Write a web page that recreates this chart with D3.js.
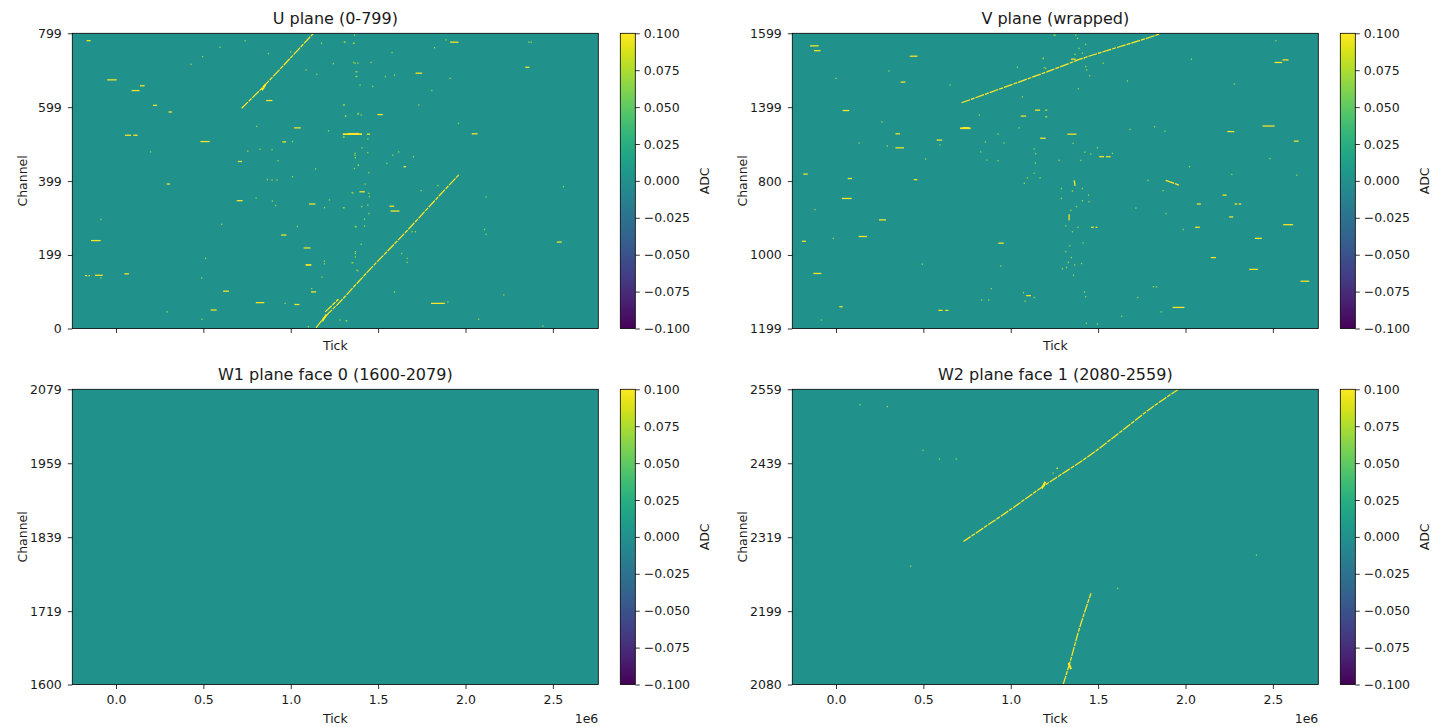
<!DOCTYPE html>
<html><head><meta charset="utf-8">
<script src="https://cdn.jsdelivr.net/npm/d3@7/dist/d3.min.js"></script>
<style>html,body{margin:0;padding:0;background:#fff}svg{display:block}text{font-family:"DejaVu Sans",sans-serif;fill:#1a1a1a}</style>
</head><body><svg id="c" width="1433" height="727"></svg>
<script>
// Ticks in units of 1e6. Hits: [tick, channel]; blips: [tickStart, tickEnd, channel]; tracks: [tick, channel] vertices.
const xTickValues=[0,0.5,1,1.5,2,2.5];
const cbarTicks=[-0.1,-0.075,-0.05,-0.025,0,0.025,0.05,0.075,0.1];

const uBlips=[[-.05,.004,673],[.09,.134,644],[.137,.164,657],[.212,.235,604],[.30,.32,586],[.052,.086,523],[.099,.124,523],[.483,.536,506],[.697,.721,452],[.859,.895,617],[1.019,1.057,543],[.952,.973,505],[.691,.725,346],[1.105,1.141,337],[.945,.975,253],[1.074,1.113,218],[-.143,-.088,238],[-.12,-.076,144],[-.177,-.165,143],[-.157,-.149,143],[.048,.074,148],[.613,.647,101],[.80,.849,70],[.542,.576,50],[1.021,1.05,65],[1.116,1.145,99],[-.168,-.145,779],[.29,.309,391],[1.912,1.96,775],[1.714,1.752,691],[2.342,2.366,707],[1.496,1.527,579],[2.036,2.069,527],[1.435,1.454,526],[1.565,1.592,331],[1.571,1.622,318],[1.803,1.882,68],[2.523,2.551,234],[1.393,1.424,370],[1.645,1.66,438]];
const uThick=[[1.325,1.39,527],[1.298,1.408,526],[1.085,1.118,172]];
const uHits=[[1.176,772],[.595,761],[.739,779],[.872,744],[.496,736],[.429,715],[1.0,749],[1.244,717],[1.088,700],[1.149,688],[1.311,775],[1.363,772],[1.368,718],[1.378,695],[1.378,682],[1.307,605],[1.315,576],[1.387,582],[.805,547],[1.216,535],[1.305,518],[1.01,506],[.754,480],[.824,485],[.893,484],[.198,478],[.927,454],[1.143,432],[.866,403],[.893,402],[.922,402],[1.01,411],[1.368,469],[1.387,442],[1.355,367],[.802,353],[.895,345],[.914,333],[1.221,348],[1.193,327],[1.305,327],[1.374,275],[-.086,295],[.605,282],[1.038,276],[1.37,203],[1.193,182],[1.193,175],[.513,190],[1.355,178],[1.384,156],[1.179,139],[.49,137],[-.086,137],[1.12,108],[.292,45],[.492,25],[.968,68],[1.267,77],[1.282,23],[1.32,21],[1.101,5],[1.365,794],[1.359,772],[1.307,775],[1.361,720],[1.384,718],[1.46,720],[1.374,695],[1.374,682],[1.397,659],[1.469,655],[1.58,747],[1.542,682],[1.594,686],[1.912,677],[1.823,760],[1.889,781],[1.807,644],[1.733,605],[1.96,555],[1.302,605],[1.313,574],[1.384,580],[1.403,578],[1.441,513],[1.302,518],[1.368,474],[1.37,462],[1.441,476],[1.408,489],[1.387,442],[1.364,433],[1.447,422],[1.55,447],[1.584,469],[1.618,478],[1.702,465],[1.426,391],[1.842,387],[1.746,373],[1.351,368],[1.447,366],[1.45,357],[2.118,356],[2.561,384],[1.302,327],[1.406,330],[1.441,334],[1.447,311],[1.422,296],[1.422,277],[1.37,276],[1.695,262],[1.714,262],[2.109,268],[2.118,255],[1.403,228],[1.37,208],[1.37,194],[1.351,178],[1.378,158],[1.635,203],[1.666,190],[1.666,179],[1.594,99],[2.219,91],[2.076,25],[2.443,7],[1.317,21],[1.899,72],[2.363,775],[2.376,775]];
const uTracks=[[[.719,596],[.834,650],[.996,731],[1.13,799]],[[1.145,2],[1.197,32],[1.282,72],[1.365,115],[1.469,168],[1.66,262],[1.851,360],[1.966,418]],[[1.197,45],[1.273,79]]];
const uWedges=[[[1.18,20],[1.205,38]],[[.835,645],[.855,660]]];

// V plane is wrapped: positions 0-799 read 1199 down to 800, then 1200 up to 1599.
const vRowTicks=[0,199,399,599,799];
const vRowLabels=["1199","1000","800","1399","1599"];
const vBlips=[[-.149,-.099,765],[-.126,-.088,752],[.422,.466,737],[.37,.397,667],[.038,.076,590],[.34,.366,527],[.34,.389,489],[.576,.607,510],[1.057,1.088,575],[1.139,1.168,591],[1.168,1.2,515],[-.187,-.162,418],[.067,.092,406],[.445,.466,403],[.034,.09,352],[.246,.286,294],[.13,.177,249],[-.195,-.172,236],[.929,.96,231],[-.13,-.084,149],[.019,.038,59],[.586,.61,49],[.625,.643,49],[1.088,1.115,89],[1.324,1.376,526],[1.506,1.534,465],[1.544,1.571,465],[2.065,2.088,337],[2.281,2.296,337],[2.304,2.319,337],[2.212,2.235,361],[2.25,2.273,302],[2.055,2.082,274],[2.559,2.616,281],[2.397,2.437,244],[2.145,2.174,192],[2.365,2.414,160],[2.658,2.708,128],[1.926,1.994,57],[2.24,2.279,533],[2.441,2.51,548],[2.62,2.647,507],[2.51,2.553,720],[2.555,2.59,727],[1.46,1.475,274],[1.485,1.496,274],[1.345,1.372,729]];
const vThick=[[.725,.76,543],[.71,.771,542]];
const vHits=[[0,677],[.303,697],[.653,659],[.263,559],[.132,502],[.294,494],[-.12,322],[-.015,244],[.513,459],[.595,497],[.82,578],[1.038,707],[1.187,731],[1.2,704],[1.067,627],[1.048,543],[.927,526],[.855,505],[.962,502],[.828,478],[.863,456],[.927,454],[1.134,486],[1.143,473],[1.141,448],[1.134,420],[1.095,408],[1.078,393],[1.168,408],[1.206,573],[1.206,591],[.494,174],[.943,169],[.889,108],[.834,77],[.874,77],[1.073,97],[1.082,74],[1.134,84],[-.084,23],[1.254,794],[1.248,794],[1.372,794],[1.382,785],[1.429,769],[1.391,758],[1.41,745],[1.368,742],[1.42,731],[1.185,731],[1.191,706],[1.529,718],[1.429,709],[1.435,700],[1.452,684],[1.668,670],[1.387,649],[1.2,591],[1.2,573],[2.034,729],[2.279,662],[2.517,779],[1.683,539],[1.823,546],[1.882,534],[1.357,501],[1.424,477],[1.458,472],[1.496,489],[1.401,455],[1.277,455],[1.582,474],[2.023,438],[2.483,460],[2.265,417],[2.637,415],[1.786,401],[1.872,373],[1.41,379],[1.353,372],[1.29,379],[1.445,361],[1.29,352],[1.41,346],[1.448,343],[1.376,330],[1.344,320],[1.716,326],[1.889,311],[1.315,278],[1.385,274],[1.353,262],[1.987,268],[1.414,232],[1.338,224],[1.315,208],[1.347,192],[1.33,179],[1.405,176],[1.366,172],[1.296,162],[1.319,165],[1.359,144],[1.422,99],[1.429,86],[1.817,113],[1.834,113],[1.727,84],[1.861,45],[1.635,33],[1.433,14],[1.496,12]];
const vTracks=[[[.719,611],[1.168,688],[1.271,706],[1.41,731],[1.563,754],[1.849,797],[1.855,799]],[[1.887,401],[1.964,388]],[[1.363,401],[1.368,386]],[[1.334,309],[1.334,293]]];
const vWedges=[];

const w1Blips=[],w1Thick=[],w1Hits=[],w1Tracks=[],w1Wedges=[];

const w2Blips=[];
const w2Thick=[];
const w2Hits=[[.137,2534],[.294,2531],[.498,2460],[.592,2446],[.688,2446],[.427,2272],[1.612,2236],[2.406,2290],[1.243,2423]];
const w2Tracks=[[[.729,2312],[.994,2363],[1.188,2402],[1.443,2450],[1.647,2494],[1.81,2530],[1.96,2559]],[[1.3,2080],[1.341,2118],[1.392,2170],[1.459,2228]],[[1.263,2430],[1.269,2432]]];
const w2Wedges=[[[1.178,2398],[1.198,2409]],[[1.331,2115],[1.345,2105]]];

const panels=[
 {title:"U plane (0-799)",x0:72.3,y0:33.3,dom:[0,799],ticks:[0,199,399,599,799],labels:null,xl:false,blips:uBlips,thick:uThick,hits:uHits,tracks:uTracks,wedges:uWedges},
 {title:"V plane (wrapped)",x0:792.3,y0:33.3,dom:[0,799],ticks:vRowTicks,labels:vRowLabels,xl:false,blips:vBlips,thick:vThick,hits:vHits,tracks:vTracks,wedges:vWedges},
 {title:"W1 plane face 0 (1600-2079)",x0:72.3,y0:389.3,dom:[1600,2079],ticks:[1600,1719,1839,1959,2079],labels:null,xl:true,blips:w1Blips,thick:w1Thick,hits:w1Hits,tracks:w1Tracks,wedges:w1Wedges},
 {title:"W2 plane face 1 (2080-2559)",x0:792.3,y0:389.3,dom:[2080,2559],ticks:[2080,2199,2319,2439,2559],labels:null,xl:true,blips:w2Blips,thick:w2Thick,hits:w2Hits,tracks:w2Tracks,wedges:w2Wedges}
];
const W=526,H=295.2,FS=12.5;
const color=d3.scaleSequential(d3.interpolateViridis).domain([-0.1,0.1]);
const svg=d3.select("#c");
const defs=svg.append("defs");
defs.append("filter").attr("id","soft").attr("x","-5%").attr("y","-5%").attr("width","110%").attr("height","110%").attr("color-interpolation-filters","sRGB").append("feGaussianBlur").attr("stdDeviation",0.3);
const grad=defs.append("linearGradient").attr("id","cbg").attr("x1",0).attr("x2",0).attr("y1",1).attr("y2",0);
d3.range(33).forEach(k=>grad.append("stop").attr("offset",k/32).attr("stop-color",color(-0.1+0.2*k/32)));
function ticksStyle(g){g.selectAll("path.domain").remove();g.selectAll("line").attr("stroke","#000").attr("stroke-width",0.8);g.selectAll("text").attr("font-size",FS).attr("fill","#1a1a1a")}
panels.forEach((p,i)=>{
 const g=svg.append("g").attr("transform",`translate(${p.x0},${p.y0})`);
 const x=d3.scaleLinear().domain([-0.25,2.76]).range([0,W]);
 const y=d3.scaleLinear().domain(p.dom).range([H,0]);
 defs.append("clipPath").attr("id","cp"+i).append("rect").attr("width",W).attr("height",H);
 g.append("rect").attr("width",W).attr("height",H).attr("fill",color(0));
 const m=g.append("g").attr("clip-path",`url(#cp${i})`).append("g").attr("filter","url(#soft)");
 const line=d3.line().x(d=>x(d[0])).y(d=>y(d[1])).curve(d3.curveCatmullRom);
 m.selectAll(".hit").data(p.hits).join("rect").attr("x",d=>x(d[0])-.6).attr("y",d=>y(d[1])-.7).attr("width",1.2).attr("height",1.4).attr("fill",color(0.07));
 m.selectAll(".blip").data(p.blips).join("line").attr("x1",d=>x(d[0])).attr("x2",d=>x(d[1])).attr("y1",d=>y(d[2])).attr("y2",d=>y(d[2])).attr("stroke",color(0.1)).attr("stroke-width",1.25);
 m.selectAll(".thick").data(p.thick).join("line").attr("x1",d=>x(d[0])).attr("x2",d=>x(d[1])).attr("y1",d=>y(d[2])).attr("y2",d=>y(d[2])).attr("stroke",color(0.1)).attr("stroke-width",1.7);
 m.selectAll(".track").data(p.tracks).join("path").attr("d",line).attr("fill","none").attr("stroke",color(0.1)).attr("stroke-width",1.25).attr("stroke-dasharray","9 1 4 1");
 m.selectAll(".wedge").data(p.wedges).join("path").attr("d",line).attr("fill","none").attr("stroke",color(0.1)).attr("stroke-width",2);
 g.append("rect").attr("width",W).attr("height",H).attr("fill","none").attr("stroke","#000").attr("stroke-width",0.8);
 // axes
 const ax=d3.axisBottom(x).tickValues(xTickValues).tickSize(4.5).tickPadding(6.5).tickFormat(d3.format(".1f"));
 if(!p.xl)ax.tickFormat("");
 g.append("g").attr("transform",`translate(0,${H})`).call(ax).call(ticksStyle);
 const ay=d3.axisLeft(y).tickValues(p.ticks).tickSize(4.5).tickPadding(6).tickFormat((d,j)=>p.labels?p.labels[j]:d);
 g.append("g").call(ay).call(ticksStyle);
 g.append("text").attr("x",W/2).attr("y",-9).attr("text-anchor","middle").attr("font-size",16).text(p.title);
 g.append("text").attr("x",W/2).attr("y",p.xl?H+38.2:H+21.2).attr("text-anchor","middle").attr("font-size",FS).text("Tick");
 g.append("text").attr("transform",`translate(-45.5,${H/2}) rotate(-90)`).attr("text-anchor","middle").attr("font-size",FS).text("Channel");
 if(p.xl)g.append("text").attr("x",W).attr("y",H+38.2).attr("text-anchor","end").attr("font-size",FS).text("1e6");
 // colorbar
 const cb=g.append("g").attr("transform",`translate(${W+22},0)`);
 const cy=d3.scaleLinear().domain([-0.1,0.1]).range([H,0]);
 cb.append("rect").attr("width",15).attr("height",H).attr("fill","url(#cbg)").attr("stroke","#000").attr("stroke-width",0.8);
 const ac=d3.axisRight(cy).tickValues(cbarTicks).tickSize(4.5).tickPadding(4).tickFormat(d=>d3.format(".3f")(d).replace("-","\u2212"));
 cb.append("g").attr("transform","translate(15,0)").call(ac).call(ticksStyle);
 cb.append("text").attr("transform",`translate(89,${H/2}) rotate(-90)`).attr("text-anchor","middle").attr("font-size",FS).text("ADC");
});
</script></body></html>
